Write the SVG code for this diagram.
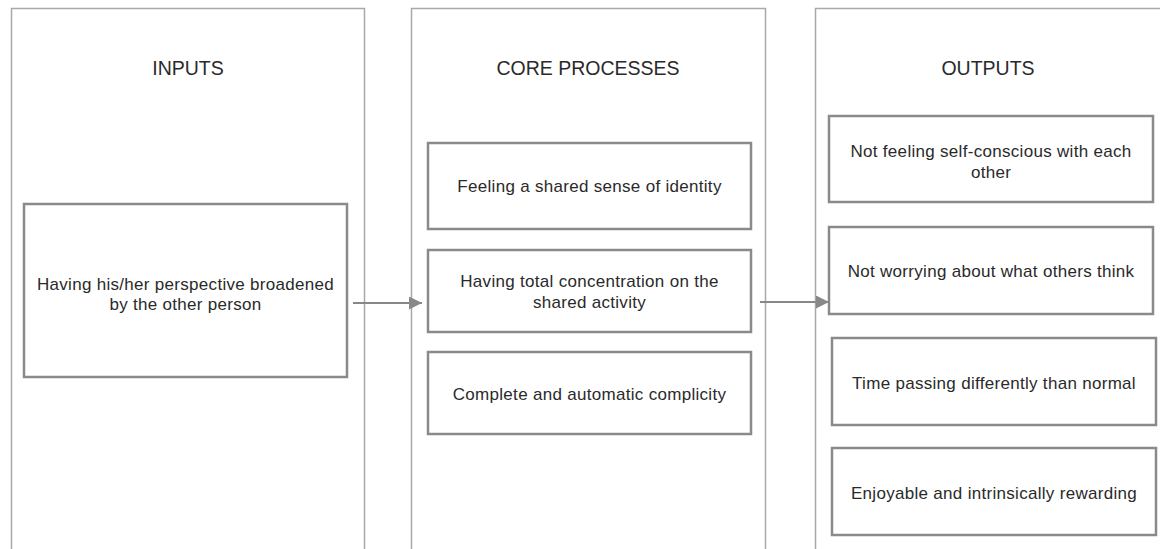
<svg xmlns="http://www.w3.org/2000/svg" width="1160" height="549" viewBox="0 0 1160 549">
<style>
.panel{fill:none;stroke:#a9a9a9;stroke-width:1.5}
.box{fill:#fff;stroke:#8a8a8a;stroke-width:2.5}
.title{font-family:"Liberation Sans",Arial,sans-serif;font-size:19.5px;fill:#2a2a2a;text-anchor:middle}
.lbl{font-family:"Liberation Sans",Arial,sans-serif;font-size:17px;letter-spacing:0.3px;fill:#2a2a2a;text-anchor:middle}
.conn{stroke:#888;stroke-width:2;fill:none}
</style>
<defs>
<marker id="ah" markerWidth="14" markerHeight="14" refX="13" refY="6.5" orient="auto" markerUnits="userSpaceOnUse">
<path d="M0,0 L13,6.5 L0,13 Z" fill="#888"/>
</marker>
</defs>
<rect width="1160" height="549" fill="#fff"/>
<g id="panel-inputs">
<path class="panel" d="M11.5,560 V8.5 H364.5 V560"/>
<text class="title" x="188" y="75">INPUTS</text>
</g>
<g id="panel-core">
<path class="panel" d="M411.5,560 V8.5 H765.5 V560"/>
<text class="title" x="588" y="75">CORE PROCESSES</text>
</g>
<g id="panel-outputs">
<path class="panel" d="M815.5,560 V8.5 H1170"/>
<text class="title" x="988" y="75">OUTPUTS</text>
</g>
<g id="input-1">
<rect class="box" x="24" y="204" width="323" height="173"/>
<text class="lbl" x="185.5" y="290">Having his/her perspective broadened</text>
<text class="lbl" x="185.5" y="310">by the other person</text>
</g>
<g id="core-1">
<rect class="box" x="428" y="143" width="323" height="86"/>
<text class="lbl" x="589.5" y="192">Feeling a shared sense of identity</text>
</g>
<g id="core-2">
<rect class="box" x="428" y="250" width="323" height="82"/>
<text class="lbl" x="589.5" y="287">Having total concentration on the</text>
<text class="lbl" x="589.5" y="308">shared activity</text>
</g>
<g id="core-3">
<rect class="box" x="428" y="352" width="323" height="82"/>
<text class="lbl" x="589.5" y="400">Complete and automatic complicity</text>
</g>
<g id="output-1">
<rect class="box" x="829" y="116" width="324" height="86"/>
<text class="lbl" x="991" y="157">Not feeling self-conscious with each</text>
<text class="lbl" x="991" y="178">other</text>
</g>
<g id="output-2">
<rect class="box" x="829" y="227" width="324" height="87"/>
<text class="lbl" x="991" y="277">Not worrying about what others think</text>
</g>
<g id="output-3">
<rect class="box" x="832" y="338" width="324" height="87"/>
<text class="lbl" x="994" y="389">Time passing differently than normal</text>
</g>
<g id="output-4">
<rect class="box" x="832" y="448" width="324" height="87"/>
<text class="lbl" x="994" y="499">Enjoyable and intrinsically rewarding</text>
</g>
<g id="connectors">
<line class="conn" x1="353" y1="303" x2="422" y2="303" marker-end="url(#ah)"/>
<line class="conn" x1="760" y1="302" x2="829" y2="302" marker-end="url(#ah)"/>
</g>
</svg>
